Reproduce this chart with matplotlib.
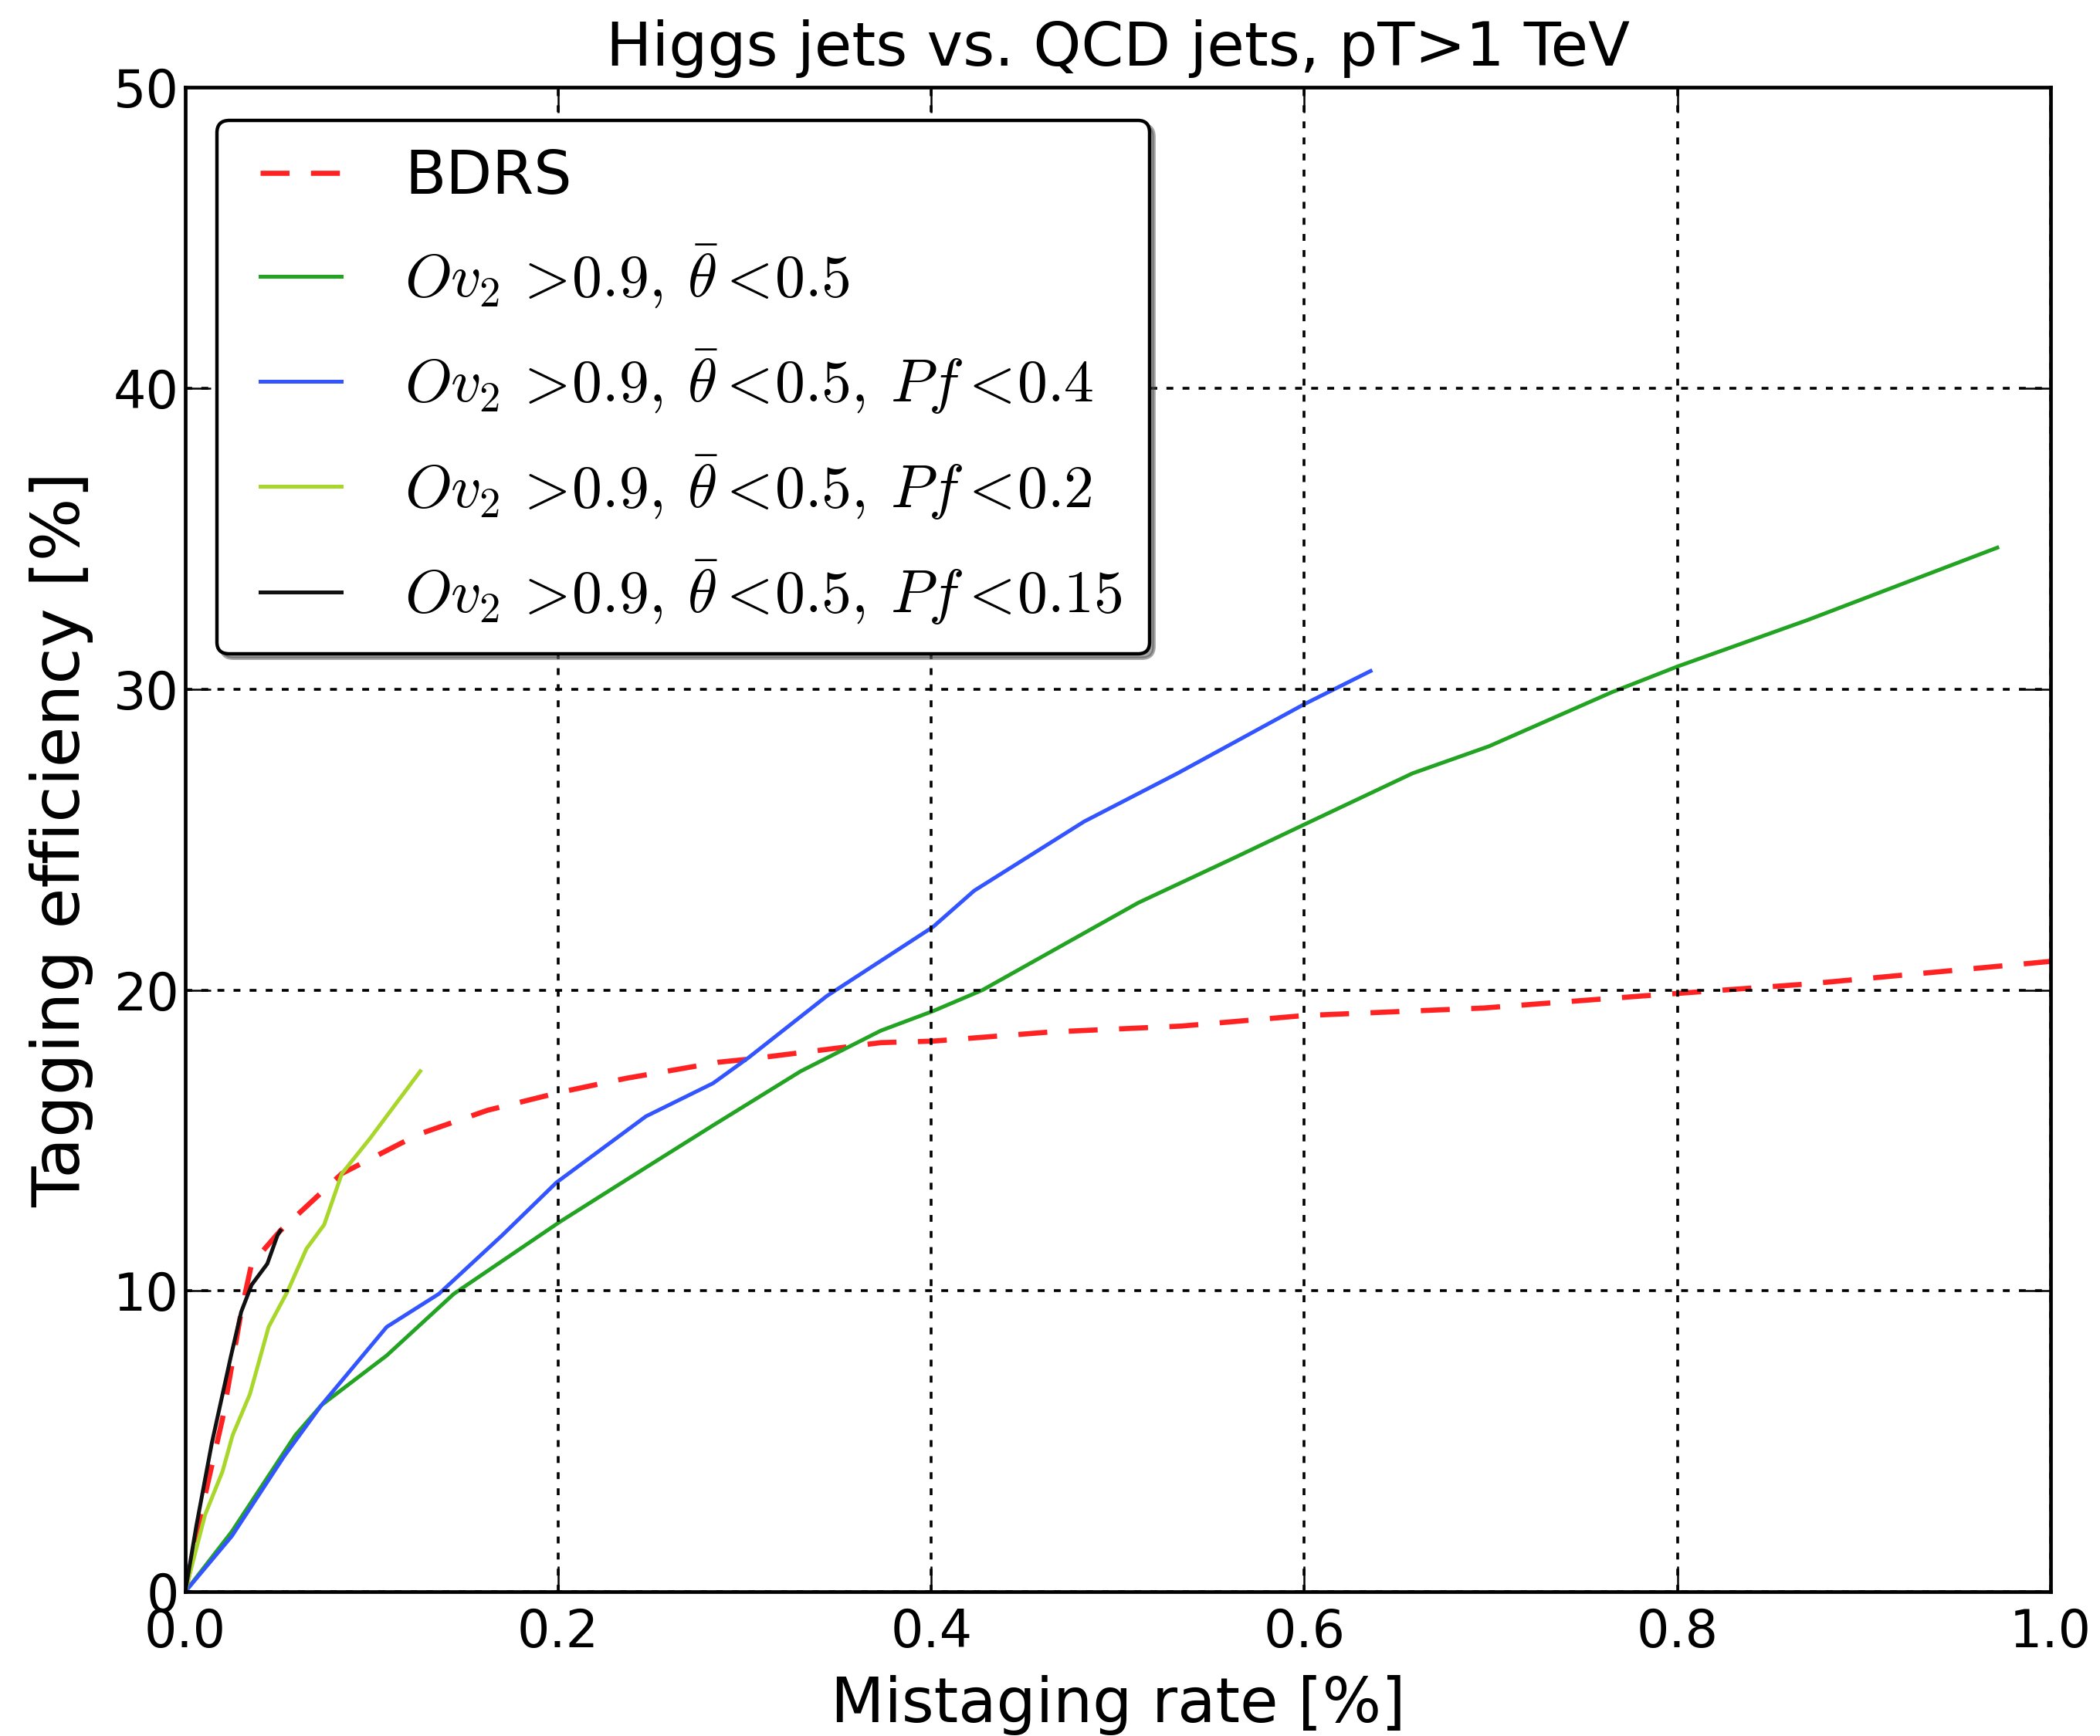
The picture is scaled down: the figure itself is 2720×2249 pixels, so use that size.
import matplotlib
matplotlib.use("Agg")
import matplotlib.pyplot as plt
from matplotlib.lines import Line2D
from matplotlib.legend_handler import HandlerLine2D

plt.rcParams["mathtext.fontset"] = "cm"
plt.rcParams["font.family"] = ["DejaVu Sans"]
plt.rcParams["lines.scale_dashes"] = False

# ROC-style curves: mistaging rate [%] vs tagging efficiency [%]
bdrs_x = [0, 0.0106, 0.020, 0.030, 0.0356, 0.051, 0.084, 0.125, 0.162, 0.201, 0.236,
          0.286, 0.302, 0.373, 0.401, 0.463, 0.534, 0.600, 0.696, 0.781, 0.870, 1.0]
bdrs_y = [0, 3.2, 5.75, 9.3, 10.9, 12.0, 13.9, 15.2, 16.0, 16.6, 17.06,
          17.6, 17.7, 18.25, 18.3, 18.6, 18.8, 19.15, 19.4, 19.8, 20.2, 20.95]

ov_x = [0, 0.025, 0.059, 0.073, 0.108, 0.144, 0.201, 0.247, 0.283, 0.330, 0.373,
        0.401, 0.4275, 0.511, 0.5627, 0.600, 0.658, 0.699, 0.765, 0.800, 0.870, 0.9715]
ov_y = [0, 2.0, 5.2, 6.2, 7.85, 9.9, 12.3, 14.1, 15.5, 17.3, 18.65,
        19.3, 20.0, 22.9, 24.4, 25.5, 27.2, 28.1, 29.9, 30.75, 32.3, 34.7]

pf04_x = [0, 0.025, 0.053, 0.073, 0.108, 0.136, 0.170, 0.199, 0.247, 0.283, 0.302,
          0.344, 0.401, 0.423, 0.482, 0.532, 0.600, 0.6355]
pf04_y = [0, 1.85, 4.5, 6.2, 8.8, 9.9, 11.85, 13.6, 15.8, 16.9, 17.75,
          19.8, 22.1, 23.3, 25.6, 27.2, 29.5, 30.6]

pf02_x = [0, 0.0106, 0.020, 0.0254, 0.0347, 0.0447, 0.055, 0.065, 0.0745, 0.084, 0.099, 0.126]
pf02_y = [0, 2.55, 4.0, 5.2, 6.57, 8.8, 10.0, 11.4, 12.2, 13.9, 15.06, 17.3]

pf015_x = [0, 0.006, 0.0143, 0.0244, 0.030, 0.0356, 0.044, 0.0495, 0.051]
pf015_y = [0, 2.2, 4.95, 7.8, 9.3, 10.2, 10.9, 11.85, 12.0]

labels = [
    "BDRS",
    r"$Ov_2\,>\!0.9,\:\bar{\theta}<\!0.5$",
    r"$Ov_2\,>\!0.9,\:\bar{\theta}<\!0.5,\:Pf<\!0.4$",
    r"$Ov_2\,>\!0.9,\:\bar{\theta}<\!0.5,\:Pf<\!0.2$",
    r"$Ov_2\,>\!0.9,\:\bar{\theta}<\!0.5,\:Pf<\!0.15$",
]
x_ticks = [0.0, 0.2, 0.4, 0.6, 0.8, 1.0]
y_ticks = [0, 10, 20, 30, 40, 50]

fig = plt.figure(figsize=(13.6, 11.245), dpi=200)
ax = fig.add_axes([0.0882, 0.0831, 0.8882, 0.8666])

ax.plot(bdrs_x, bdrs_y, color="#ff2222", lw=2.4, dashes=(13.5, 10), label=labels[0])
ax.plot(ov_x, ov_y, color="#22a322", lw=1.8, label=labels[1])
ax.plot(pf04_x, pf04_y, color="#3355ff", lw=1.8, label=labels[2])
ax.plot(pf02_x, pf02_y, color="#a8d62a", lw=1.8, label=labels[3])
ax.plot(pf015_x, pf015_y, color="#111111", lw=1.8, label=labels[4])

ax.set_xlim(0, 1.0)
ax.set_ylim(0, 50)
ax.set_xticks(x_ticks)
ax.set_yticks(y_ticks)
ax.set_xticklabels([f"{v:.1f}" for v in x_ticks])
ax.set_yticklabels([f"{v:d}" for v in y_ticks])

ax.grid(True, color="black", linestyle=(0, (3.2, 4.3)), linewidth=1.3)
ax.set_axisbelow(False)
for s in ax.spines.values():
    s.set_linewidth(1.7)

ax.tick_params(axis="both", which="major", direction="in", top=True, right=True,
               length=12, width=0.9, labelsize=24)
ax.tick_params(axis="x", pad=7)
ax.tick_params(axis="y", pad=3)

ax.set_xlabel("Mistaging rate [%]", fontsize=29, labelpad=8)
ax.set_ylabel("Tagging efficiency [%]", fontsize=31, labelpad=9)
ax.set_title("Higgs jets vs. QCD jets, pT>1 TeV", fontsize=28.4, pad=10)

leg = ax.legend(loc="upper left", bbox_to_anchor=(0.017, 0.978), borderaxespad=0,
                fontsize=28, fancybox=True, shadow=True, framealpha=1,
                handlelength=1.62, handletextpad=1.06, labelspacing=0.62, borderpad=0.45,
                handler_map={Line2D: HandlerLine2D(xpad=0.27)})
leg.get_frame().set_edgecolor("black")
leg.get_frame().set_linewidth(1.6)

fig.savefig("out.png", dpi=200)
